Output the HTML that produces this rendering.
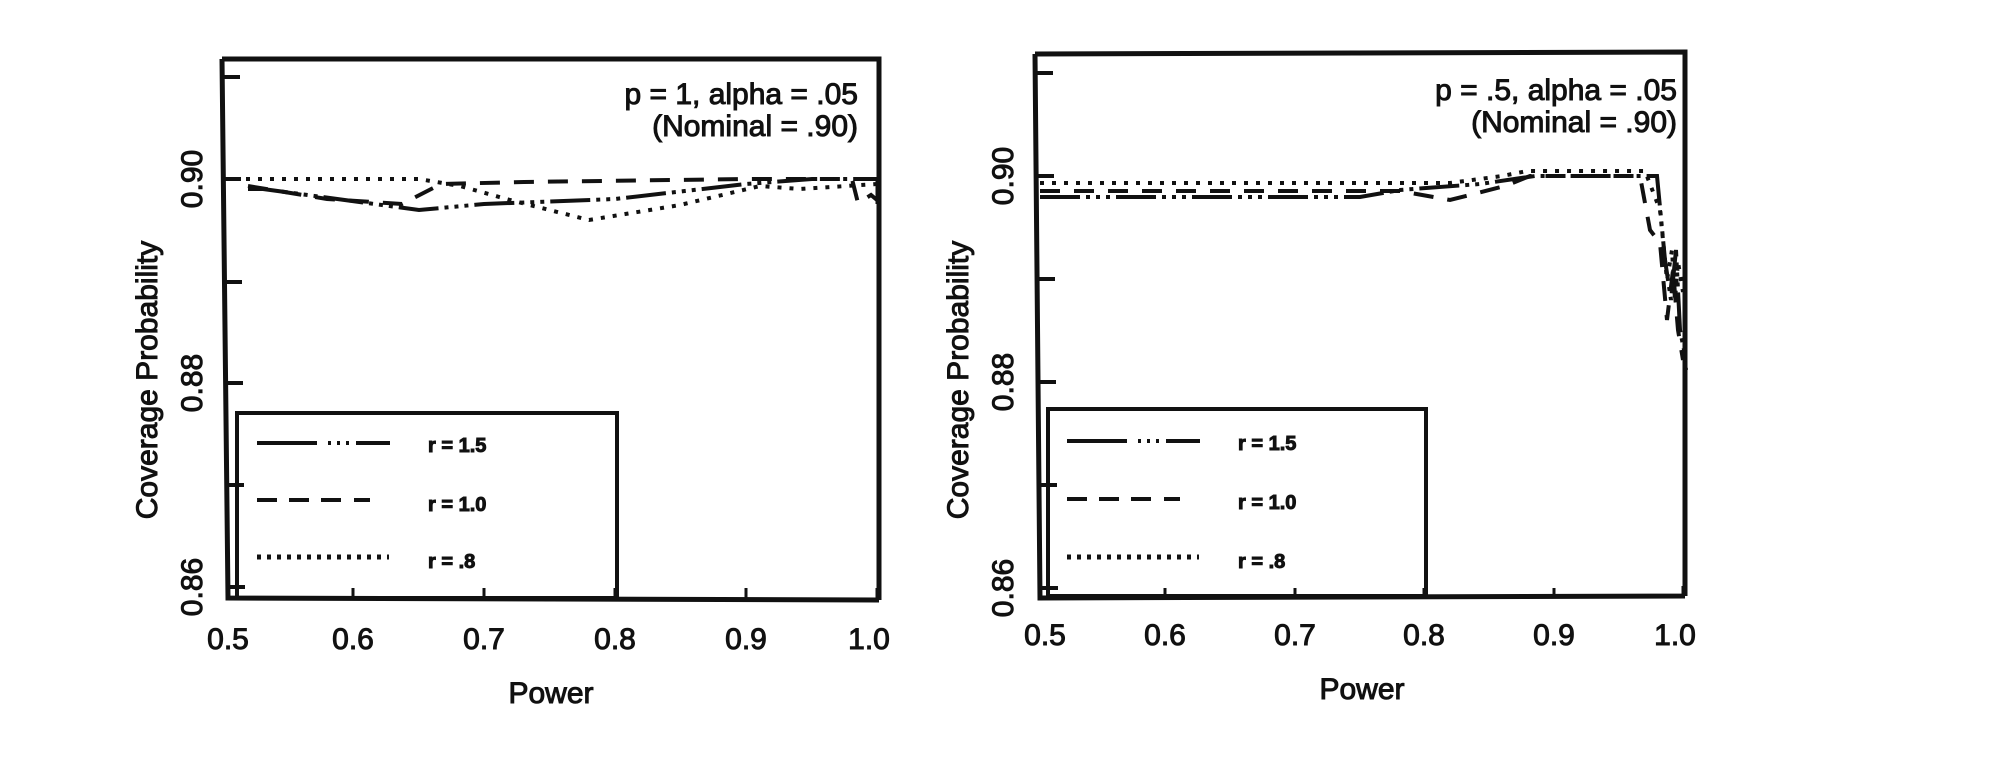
<!DOCTYPE html>
<html><head><meta charset="utf-8"><style>
html,body{margin:0;padding:0;background:#fff;}
svg{display:block;}
text{font-family:"Liberation Sans",Arial,sans-serif;fill:#111;stroke:#111;stroke-width:1px;}
</style></head><body>
<svg width="1991" height="762" viewBox="0 0 1991 762" xmlns="http://www.w3.org/2000/svg">
<g fill="none" stroke="#111">
<path d="M222 59 L879 59 L879 600 M222 59 L228 598 L879 600" stroke-width="5"/>
<path d="M223 77 h17 M224 179 h17 M225 282 h17 M226 383 h17 M227 485 h17 M228 587 h17" stroke-width="4"/>
<path d="M353 598 v-10 M484 598 v-10 M615 598 v-10 M746 598 v-10 M877 598 v-10" stroke-width="3"/>
<rect x="237" y="413" width="380" height="185" stroke-width="4"/>
<path d="M257 443 h60" stroke-width="4"/>
<path d="M328 443 h3 M337 443 h3 M346 443 h3" stroke-width="4"/>
<path d="M356 443 h34" stroke-width="4"/>
<path d="M257 500 h20 M289 500 h20 M321 500 h20 M354 500 h16" stroke-width="4"/>
<path d="M257 557 h132" stroke-width="5" stroke-dasharray="4 6"/>
<polyline points="222,179 419,179 460,186 510,200 589,220 680,205 760,186 800,189 877,184" stroke-width="4" stroke-dasharray="4 8"/>
<polyline points="248,186 327,199 402,204 441,184 524,182 746,179 852,179 858,203 871,195 877,200" stroke-width="4" stroke-dasharray="20 14"/>
<polyline points="248,189 263,189 419,210 484,204 615,199 746,184 812,179 877,179" stroke-width="4" stroke-dasharray="40 6 4 6 4 6 4 6"/>
<path d="M877 179 v25" stroke-width="3"/>

<path d="M1035 54 L1685 52 L1685 596 M1035 54 L1040 598 L1685 596" stroke-width="5"/>
<path d="M1036 73 h17 M1037 176 h17 M1038 279 h17 M1039 382 h17 M1040 485 h17 M1041 588 h17" stroke-width="4"/>
<path d="M1165 598 v-10 M1295 598 v-10 M1424 598 v-10 M1554 598 v-10 M1683 596 v-10" stroke-width="3"/>
<rect x="1048" y="409" width="378" height="187" stroke-width="4"/>
<path d="M1067 441 h60" stroke-width="4"/>
<path d="M1138 441 h3 M1147 441 h3 M1156 441 h3" stroke-width="4"/>
<path d="M1166 441 h34" stroke-width="4"/>
<path d="M1067 499 h20 M1099 499 h20 M1131 499 h20 M1164 499 h16" stroke-width="4"/>
<path d="M1067 557 h132" stroke-width="5" stroke-dasharray="4 6"/>
<polyline points="1040,183 1450,183 1502,176 1527,171 1645,171 1660,210 1667,280 1672,250 1675,300 1678,262 1683,292" stroke-width="4" stroke-dasharray="4 8"/>
<polyline points="1040,191 1400,191 1450,200 1505,186 1530,176 1640,176 1650,230 1660,243 1667,320 1673,270 1678,330 1683,360" stroke-width="4" stroke-dasharray="20 14"/>
<polyline points="1040,197 1360,197 1400,190 1480,184 1535,176 1657,176 1665,260 1671,300 1676,250 1680,330 1684,350 1686,370" stroke-width="4" stroke-dasharray="40 6 4 6 4 6 4 6"/>
</g>

<g font-size="30">
<text x="858" y="104" text-anchor="end">p = 1, alpha = .05</text>
<text x="858" y="136" text-anchor="end">(Nominal = .90)</text>
<text transform="translate(202,179) rotate(-90)" text-anchor="middle">0.90</text>
<text transform="translate(202,383) rotate(-90)" text-anchor="middle">0.88</text>
<text transform="translate(202,587) rotate(-90)" text-anchor="middle">0.86</text>
<text transform="translate(157,380) rotate(-90)" text-anchor="middle">Coverage Probability</text>
<text x="228" y="649" text-anchor="middle">0.5</text>
<text x="353" y="649" text-anchor="middle">0.6</text>
<text x="484" y="649" text-anchor="middle">0.7</text>
<text x="615" y="649" text-anchor="middle">0.8</text>
<text x="746" y="649" text-anchor="middle">0.9</text>
<text x="869" y="649" text-anchor="middle">1.0</text>
<text x="551" y="703" text-anchor="middle">Power</text>
</g>
<g font-size="20" font-weight="bold">
<text x="428" y="452">r = 1.5</text>
<text x="428" y="511">r = 1.0</text>
<text x="428" y="568">r = .8</text>
<text x="1238" y="450">r = 1.5</text>
<text x="1238" y="509">r = 1.0</text>
<text x="1238" y="568">r = .8</text>
</g>
<g font-size="30">
<text x="1677" y="100" text-anchor="end">p = .5, alpha = .05</text>
<text x="1677" y="132" text-anchor="end">(Nominal = .90)</text>
<text transform="translate(1013,176) rotate(-90)" text-anchor="middle">0.90</text>
<text transform="translate(1013,382) rotate(-90)" text-anchor="middle">0.88</text>
<text transform="translate(1013,588) rotate(-90)" text-anchor="middle">0.86</text>
<text transform="translate(968,380) rotate(-90)" text-anchor="middle">Coverage Probability</text>
<text x="1045" y="645" text-anchor="middle">0.5</text>
<text x="1165" y="645" text-anchor="middle">0.6</text>
<text x="1295" y="645" text-anchor="middle">0.7</text>
<text x="1424" y="645" text-anchor="middle">0.8</text>
<text x="1554" y="645" text-anchor="middle">0.9</text>
<text x="1675" y="645" text-anchor="middle">1.0</text>
<text x="1362" y="699" text-anchor="middle">Power</text>
</g>
</svg>
</body></html>
